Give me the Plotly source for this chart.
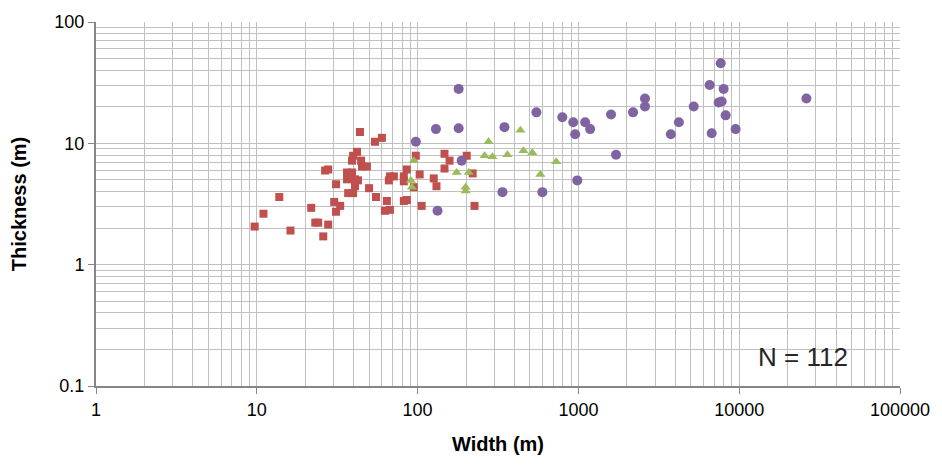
import plotly.graph_objects as go

# Red squares
red_w = [9.7, 11.0, 13.8, 16.2, 21.8, 23.1, 24.1, 25.9, 27.8, 26.6, 27.8, 30.3, 33.0, 31.1, 31.1,
         36.4, 39.1, 36.4, 40.8, 42.6, 37.0, 39.7, 40.8, 39.1, 39.7, 42.0, 44.5, 43.8, 45.1, 48.4,
         49.9, 54.3, 60.0, 55.1, 64.4, 62.6, 67.3, 67.3, 71.2, 66.3, 82.1, 82.1, 85.7, 97.5, 103,
         94.7, 82.1, 85.7, 106, 126, 131, 147, 158, 147, 202, 220, 226]
red_t = [2.06, 2.63, 3.61, 1.91, 2.94, 2.22, 2.22, 1.71, 2.14, 5.97, 6.09, 3.29, 3.05, 2.73, 4.60,
         5.75, 5.75, 5.05, 5.05, 4.95, 3.89, 3.89, 4.43, 7.20, 7.90, 8.51, 7.20, 12.4, 6.44, 6.44,
         4.27, 10.3, 11.1, 3.61, 3.35, 2.78, 2.83, 5.34, 5.34, 4.95, 5.34, 4.86, 6.09, 7.90, 5.54,
         4.35, 3.35, 3.41, 3.05, 5.14, 4.43, 8.20, 7.20, 6.20, 7.90, 5.65, 3.05]

# Green triangles
green_w = [94.7, 90.8, 92.1, 175, 208, 199, 199, 276, 261, 292, 362, 436, 455, 517, 580, 728]
green_t = [7.20, 4.95, 4.35, 5.75, 5.75, 4.35, 4.04, 10.3, 7.90, 7.75, 8.05, 12.8, 8.68, 8.36, 5.54, 7.06]

# Purple circles
purple_w = [97.5, 130, 180, 180, 188, 133, 347, 337, 548, 597, 794, 929, 955, 984, 1102, 1183,
            1596, 1714, 2187, 2594, 2594, 3757, 4215, 5215, 6557, 6745, 7451, 7782, 7674, 8000,
            8238, 9500, 26170]
purple_t = [10.3, 13.1, 13.3, 28.1, 7.20, 2.78, 13.6, 3.96, 18.0, 3.96, 16.4, 14.9, 11.9, 4.95,
            14.9, 13.1, 17.3, 8.05, 18.0, 23.4, 20.1, 11.9, 14.9, 20.1, 30.3, 12.1, 21.7, 22.1,
            45.7, 28.1, 17.0, 13.1, 23.4]

x_ticks = [1, 10, 100, 1000, 10000, 100000]
x_labels = ["1", "10", "100", "1000", "10000", "100000"]
y_ticks = [0.1, 1, 10, 100]
y_labels = ["0.1", "1", "10", "100"]

FONT = "Liberation Sans, Arial, sans-serif"
GRID = "#C0C0C0"
AXIS = "#868686"

fig = go.Figure()
fig.add_trace(go.Scatter(x=red_w, y=red_t, mode="markers",
                         marker=dict(symbol="square", size=8, color="#C0504D",
                                     line=dict(width=0))))
fig.add_trace(go.Scatter(x=green_w, y=green_t, mode="markers",
                         marker=dict(symbol="triangle-up", size=9, color="#9BBB59",
                                     line=dict(width=0))))
fig.add_trace(go.Scatter(x=purple_w, y=purple_t, mode="markers",
                         marker=dict(symbol="circle", size=10, color="#8064A2",
                                     line=dict(width=0))))

fig.update_layout(
    width=942, height=466,
    margin=dict(l=96, r=39, t=16, b=80),
    paper_bgcolor="white", plot_bgcolor="white",
    showlegend=False,
    font=dict(family=FONT, size=18, color="#000000"),
    xaxis=dict(type="log", range=[0, 5], tickvals=x_ticks, ticktext=x_labels,
               showgrid=True, gridcolor=GRID, gridwidth=1,
               minor=dict(showgrid=True, gridcolor=GRID, gridwidth=1, ticks="", dtick="D1"),
               showline=True, linecolor=AXIS, linewidth=2,
               ticks="outside", ticklen=6, tickcolor=AXIS, zeroline=False,
               title=dict(text="<b>Width (m)</b>", font=dict(family=FONT, size=20), standoff=18)),
    yaxis=dict(type="log", range=[-1, 2], tickvals=y_ticks, ticktext=y_labels,
               showgrid=True, gridcolor=GRID, gridwidth=1,
               minor=dict(showgrid=True, gridcolor=GRID, gridwidth=1, ticks="", dtick="D1"),
               showline=True, linecolor=AXIS, linewidth=2,
               ticks="outside", ticklen=6, tickcolor=AXIS, zeroline=False,
               title=dict(text="<b>Thickness (m)</b>", font=dict(family=FONT, size=20), standoff=22)),
    annotations=[dict(text="N = 112", xref="paper", yref="paper", x=0.879, y=0.081,
                      xanchor="center", yanchor="middle",
                      showarrow=False, font=dict(family=FONT, size=26, color="#262626"))],
)

fig.write_html("out.html")
